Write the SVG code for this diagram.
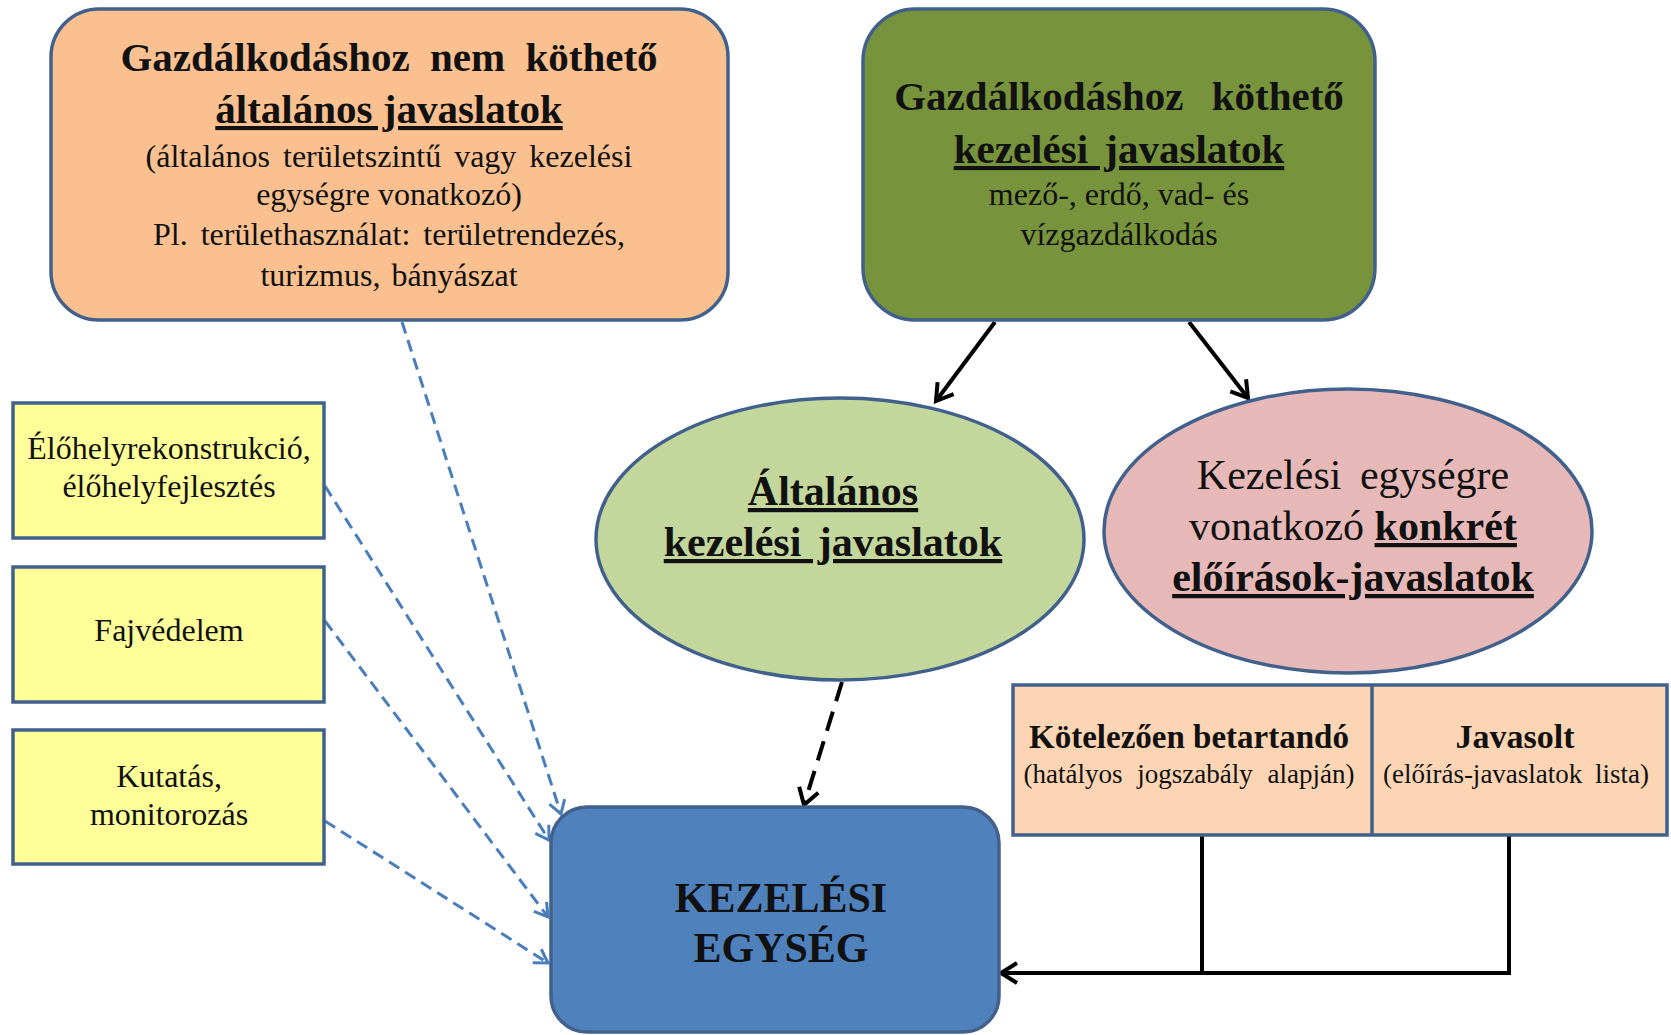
<svg xmlns="http://www.w3.org/2000/svg" width="1671" height="1035" viewBox="0 0 1671 1035">
<style>
text{font-family:"Liberation Serif","Times New Roman",serif;fill:#111;text-anchor:middle}
.b{font-weight:bold}
.u{text-decoration:underline}
.t{font-size:41px;font-weight:bold}
.s{font-size:32px}
.e{font-size:42px}
.box{stroke:#41618C;stroke-width:3.5}
.k{fill:none;stroke:#000;stroke-width:4}
.bl{fill:none;stroke:#4A7EBB;stroke-width:3;stroke-dasharray:12 7}
</style>
<defs>
<marker id="ak" markerUnits="userSpaceOnUse" viewBox="-22 -14 26 28" markerWidth="26" markerHeight="28" refX="0" refY="0" orient="auto">
<path d="M-16 -10 L0 0 L-16 10" fill="none" stroke="#000" stroke-width="4"/>
</marker>
<marker id="ab" markerUnits="userSpaceOnUse" viewBox="-18 -12 22 24" markerWidth="22" markerHeight="24" refX="0" refY="0" orient="auto">
<path d="M-13 -8 L0 0 L-13 8" fill="none" stroke="#4A7EBB" stroke-width="3"/>
</marker>
</defs>
<rect width="1671" height="1035" fill="#fff"/>

<g id="connectors">
<path class="k" d="M995 322 L936 401" marker-end="url(#ak)"/>
<path class="k" d="M1189 322 L1248 398" marker-end="url(#ak)"/>
<path class="k" d="M842 682 L804 805" stroke-dasharray="20 11" marker-end="url(#ak)"/>
<path class="bl" d="M402 322 L561 814" marker-end="url(#ab)"/>
<path class="bl" d="M325 486 L549 840" marker-end="url(#ab)"/>
<path class="bl" d="M325 621 L548 917" marker-end="url(#ab)"/>
<path class="bl" d="M325 821 L548 963" marker-end="url(#ab)"/>
<path class="k" d="M1202 835 V973"/>
<path class="k" d="M1509 835 V973 H1001" marker-end="url(#ak)"/>
</g>

<g id="n-orange">
<rect class="box" x="51" y="9" width="677" height="311" rx="48" fill="#FAC090"/>
<text class="t" x="389" y="71" word-spacing="10">Gazdálkodáshoz nem köthető</text>
<text class="t u" x="389" y="123">általános javaslatok</text>
<text class="s" x="389" y="167" word-spacing="5">(általános területszintű vagy kezelési</text>
<text class="s" x="389" y="205">egységre vonatkozó)</text>
<text class="s" x="389" y="245" word-spacing="5">Pl. területhasználat: területrendezés,</text>
<text class="s" x="389" y="286" word-spacing="3">turizmus, bányászat</text>
</g>

<g id="n-green">
<rect class="box" x="863" y="9" width="512" height="311" rx="52" fill="#77933C"/>
<text class="t" x="1119" y="110" word-spacing="18">Gazdálkodáshoz köthető</text>
<text class="t u" x="1119" y="163" word-spacing="6">kezelési javaslatok</text>
<text class="s" x="1119" y="205">mező-, erdő, vad- és</text>
<text class="s" x="1119" y="245">vízgazdálkodás</text>
</g>

<g id="n-yellow1">
<rect class="box" x="13" y="403" width="311" height="135" fill="#FFFF99"/>
<text class="s" x="169" y="459">Élőhelyrekonstrukció,</text>
<text class="s" x="169" y="497">élőhelyfejlesztés</text>
</g>
<g id="n-yellow2">
<rect class="box" x="13" y="567" width="311" height="135" fill="#FFFF99"/>
<text class="s" x="169" y="641">Fajvédelem</text>
</g>
<g id="n-yellow3">
<rect class="box" x="13" y="730" width="311" height="134" fill="#FFFF99"/>
<text class="s" x="169" y="787">Kutatás,</text>
<text class="s" x="169" y="825">monitorozás</text>
</g>

<g id="n-altalanos">
<ellipse class="box" cx="840" cy="539" rx="244" ry="141" fill="#C3D69B"/>
<text class="e b u" x="833" y="505">Általános</text>
<text class="e b u" x="833" y="556" word-spacing="6">kezelési javaslatok</text>
</g>

<g id="n-konkret">
<ellipse class="box" cx="1348" cy="531" rx="244" ry="142" fill="#E6B9B8"/>
<text class="e" x="1353" y="489" word-spacing="8">Kezelési egységre</text>
<text class="e" x="1353" y="540">vonatkozó <tspan class="b u">konkrét</tspan></text>
<text class="e b u" x="1353" y="591">előírások-javaslatok</text>
</g>

<g id="n-table">
<rect class="box" x="1013" y="685" width="654" height="150" fill="#FCD5B4"/>
<line class="box" x1="1372" y1="685" x2="1372" y2="835"/>
<text class="b" x="1189" y="748" font-size="33">Kötelezően betartandó</text>
<text x="1189" y="783" font-size="27" word-spacing="8">(hatályos jogszabály alapján)</text>
<text class="b" x="1515" y="748" font-size="34">Javasolt</text>
<text x="1516" y="783" font-size="27" word-spacing="6">(előírás-javaslatok lista)</text>
</g>

<g id="n-kezelesi">
<rect class="box" x="551" y="807" width="448" height="225" rx="36" fill="#4F81BD"/>
<text class="e b" x="781" y="912" fill="#0A1428">KEZELÉSI</text>
<text class="e b" x="781" y="962" fill="#0A1428">EGYSÉG</text>
</g>
</svg>
